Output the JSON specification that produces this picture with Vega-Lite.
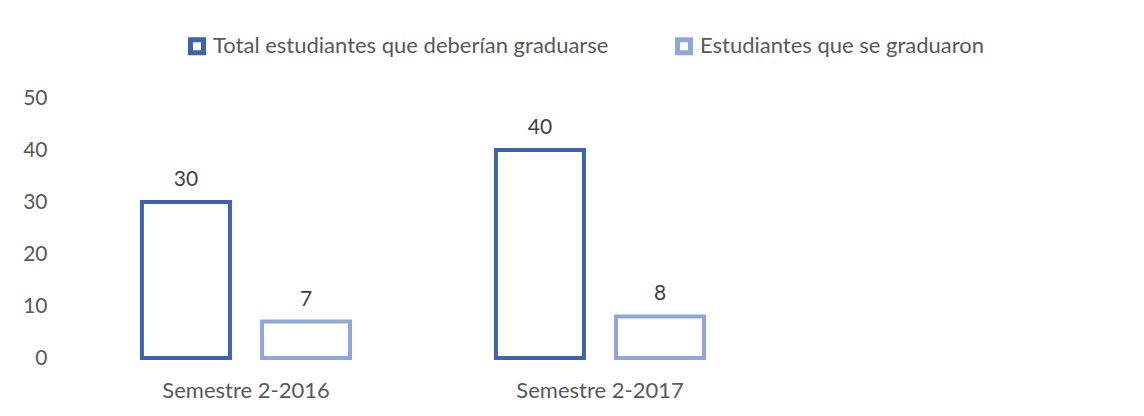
{
  "$schema": "https://vega.github.io/schema/vega-lite/v6.json",
  "width": 1062,
  "height": 260,
  "autosize": {"type": "none"},
  "padding": {"left": 69, "top": 98, "right": 13, "bottom": 58},
  "background": "white",
  "config": {
    "view": {"stroke": null},
    "font": "Lato",
    "axis": {"labelFont": "Lato", "labelColor": "#595959", "labelFontSize": 21, "grid": false, "domain": false, "ticks": false, "title": null},
    "legend": {"labelFont": "Lato", "labelColor": "#595959", "labelFontSize": 22, "labelLimit": 0}
  },
  "data": {
    "values": [
      {"semestre": "Semestre 2-2016", "serie": "Total estudiantes que deberían graduarse", "valor": 30},
      {"semestre": "Semestre 2-2016", "serie": "Estudiantes que se graduaron", "valor": 7},
      {"semestre": "Semestre 2-2017", "serie": "Total estudiantes que deberían graduarse", "valor": 40},
      {"semestre": "Semestre 2-2017", "serie": "Estudiantes que se graduaron", "valor": 8}
    ]
  },
  "encoding": {
    "x": {
      "field": "semestre", "type": "nominal",
      "scale": {"domain": ["Semestre 2-2016", "Semestre 2-2017", " "], "paddingInner": 0.412, "paddingOuter": 0.206},
      "axis": {"labelAngle": 0, "labelPadding": 22, "labelFontSize": 22}
    },
    "xOffset": {
      "field": "serie", "type": "nominal",
      "scale": {"domain": ["Total estudiantes que deberían graduarse", "Estudiantes que se graduaron"], "paddingInner": 0.267, "paddingOuter": 0}
    },
    "y": {
      "field": "valor", "type": "quantitative",
      "scale": {"domain": [0, 50], "nice": false},
      "axis": {"values": [0, 10, 20, 30, 40, 50], "labelPadding": 22}
    }
  },
  "layer": [
    {
      "mark": {"type": "bar", "fill": "white", "strokeWidth": 4},
      "encoding": {
        "stroke": {
          "field": "serie", "type": "nominal",
          "scale": {"domain": ["Total estudiantes que deberían graduarse", "Estudiantes que se graduaron"], "range": ["#3E63AE", "#8FA6D8"]},
          "legend": {
            "title": null, "orient": "none", "direction": "horizontal",
            "legendX": 117, "legendY": -63,
            "symbolType": "square", "symbolSize": 169, "symbolStrokeWidth": 5,
            "symbolFillColor": "white", "labelOffset": 5, "columnPadding": 58
          }
        }
      }
    },
    {
      "mark": {"type": "text", "baseline": "bottom", "dy": -12, "fontSize": 21, "color": "#404040", "font": "Lato"},
      "encoding": {"text": {"field": "valor", "type": "quantitative"}}
    }
  ]
}
